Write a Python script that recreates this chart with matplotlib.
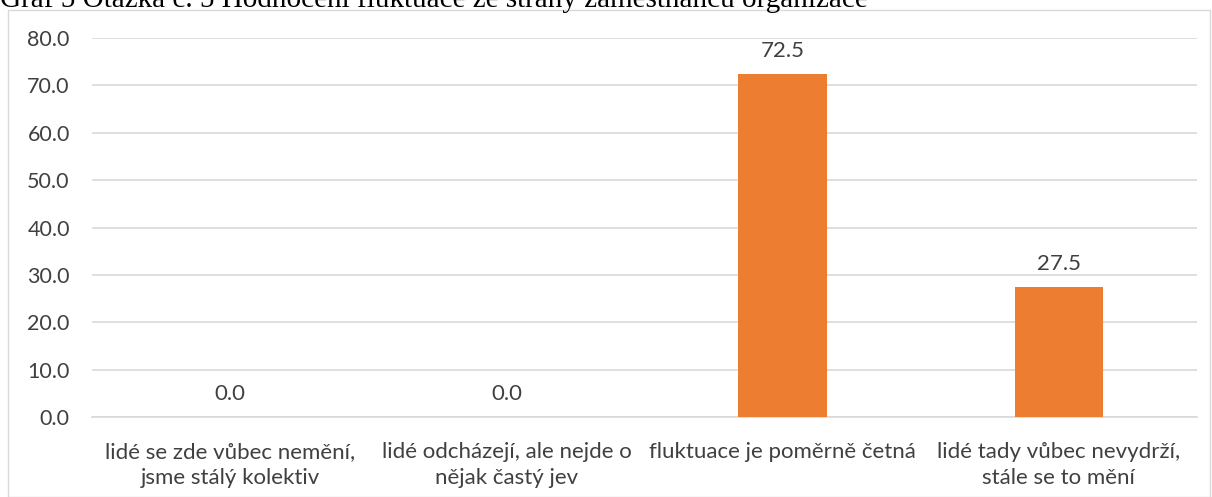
import matplotlib
matplotlib.use("Agg")
import matplotlib.pyplot as plt
from matplotlib.patches import Rectangle

categories = ["lidé se zde vůbec nemění,\njsme stálý kolektiv",
              "lidé odcházejí, ale nejde o\nnějak častý jev",
              "fluktuace je poměrně četná",
              "lidé tady vůbec nevydrží,\nstále se to mění"]
values = [0.0, 0.0, 72.5, 27.5]
yticks = [0, 10, 20, 30, 40, 50, 60, 70, 80]
title = "Graf 5 Otázka č. 5 Hodnocení fluktuace ze strany zaměstnanců organizace"

W, H = 1212, 497
fig = plt.figure(figsize=(W/100, H/100), dpi=100)
font = "Lato"
txtcol = "#404040"
fs = 16

# chart frame
fig.patches.append(Rectangle((8/W, 0), (W-10)/W, (H-10)/H, transform=fig.transFigure,
                             fill=False, edgecolor="#d9d9d9", linewidth=1.0))
# title (clipped at top, as in the reference)
fig.text(0, 1.0 + 1/H, title, family="Liberation Serif", fontsize=21, color="black",
         ha="left", va="center")

left, right = 92, 1197
top, bottom = 38, 417
ax = fig.add_axes([left/W, 1 - bottom/H, (right-left)/W, (bottom-top)/H])
x = list(range(len(categories)))
ax.bar(x, values, width=0.32, color="#ED7D31", zorder=3)
ax.set_xlim(-0.5, 3.5)
ax.set_ylim(0, 80)
ax.set_yticks(yticks)
ax.set_yticklabels([f"{v:.1f}" for v in yticks], family=font, fontsize=15.5, color=txtcol)
ax.set_xticks(x)
ax.set_xticklabels(categories, family=font, fontsize=fs, color=txtcol, linespacing=1.4)
ax.tick_params(axis="both", length=0)
ax.tick_params(axis="y", pad=16)
ax.tick_params(axis="x", pad=18)
ax.grid(axis="y", color="#d9d9d9", linewidth=1.2, zorder=0)
for s in ["top", "right", "left"]:
    ax.spines[s].set_visible(False)
ax.spines["bottom"].set_color("#d9d9d9")
ax.spines["bottom"].set_linewidth(1.2)
for xi, v in zip(x, values):
    ax.annotate(f"{v:.1f}", (xi, v), xytext=(0, 9), textcoords="offset points",
                ha="center", va="bottom", family=font, fontsize=fs, color=txtcol)

fig.savefig("out.png", dpi=100)
